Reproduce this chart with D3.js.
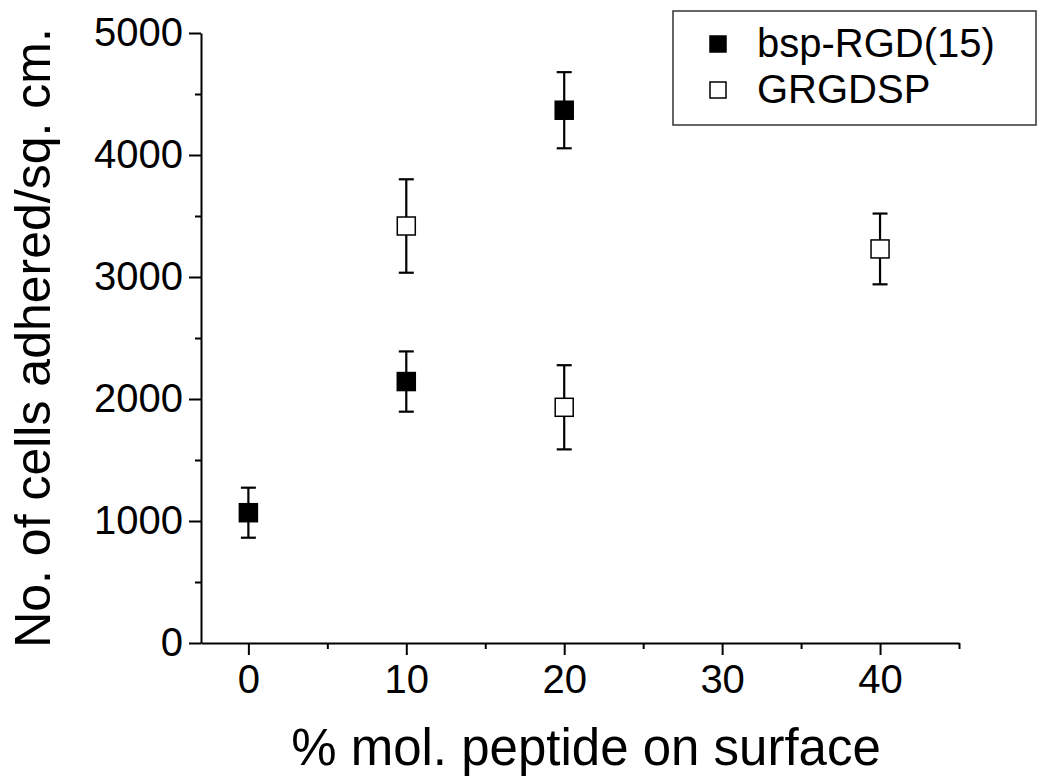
<!DOCTYPE html>
<html>
<head>
<meta charset="utf-8">
<script src="https://cdn.jsdelivr.net/npm/d3@7"></script>
<style>
  body { margin: 0; background: #fff; }
  svg { display: block; font-family: "Liberation Sans", Arial, sans-serif; }
  .axis path, .axis line { stroke: #000; stroke-width: 2; }
  .axis text { font-size: 40px; fill: #000; font-family: "Liberation Sans", Arial, sans-serif; }
</style>
</head>
<body>
<div id="chart"></div>
<script>
// values
const seriesNames = ['bsp-RGD(15)', 'GRGDSP'];
const bspX = [0, 10, 20];
const bspY = [1068, 2143, 4367];
const bspErr = [205, 247, 312];
const grgX = [10, 20, 40];
const grgY = [3418, 1932, 3230];
const grgErr = [383, 345, 290];
const xTicks = [0, 10, 20, 30, 40];
const xMinor = [5, 15, 25, 35, 45];
const yTicks = [0, 1000, 2000, 3000, 4000, 5000];
const yMinor = [500, 1500, 2500, 3500, 4500];

const width = 1050, height = 783;
const plot = {left: 201, right: 959, top: 33, bottom: 643};

const svg = d3.select('#chart').append('svg')
    .attr('width', width)
    .attr('height', height);

const x = d3.scaleLinear().domain([-3, 45]).range([plot.left, plot.right]);
const y = d3.scaleLinear().domain([0, 5000]).range([plot.bottom, plot.top]);

// minor ticks first, so major axis draws over them
svg.append('g')
    .attr('class', 'axis')
    .attr('transform', 'translate(0,' + plot.bottom + ')')
    .call(d3.axisBottom(x).tickValues(xMinor).tickSize(6).tickSizeOuter(0).tickFormat(''))
    .select('.domain').remove();
svg.append('g')
    .attr('class', 'axis')
    .attr('transform', 'translate(' + plot.left + ',0)')
    .call(d3.axisLeft(y).tickValues(yMinor).tickSize(6).tickSizeOuter(0).tickFormat(''))
    .select('.domain').remove();

let xAxis = svg.append('g')
    .attr('class', 'axis')
    .attr('transform', 'translate(0,' + plot.bottom + ')')
    .call(d3.axisBottom(x).tickValues(xTicks).tickSize(12).tickSizeOuter(0)
        .tickPadding(8).tickFormat(d3.format('d')));
xAxis.selectAll('text').attr('dy', '0.76em');

let yAxis = svg.append('g')
    .attr('class', 'axis')
    .attr('transform', 'translate(' + plot.left + ',0)')
    .call(d3.axisLeft(y).tickValues(yTicks).tickSize(12).tickSizeOuter(0)
        .tickPadding(6).tickFormat(d3.format('d')));

// axis titles
svg.append('text')
    .attr('x', 586)
    .attr('y', 765)
    .attr('text-anchor', 'middle')
    .style('font-size', '51px')
    .text('% mol. peptide on surface');

svg.append('text')
    .attr('transform', 'translate(50,' + 338 + ') rotate(-90)')
    .attr('text-anchor', 'middle')
    .style('font-size', '50px')
    .text('No. of cells adhered/sq. cm.');

// data series with error bars
const series = [
    {x: bspX, y: bspY, err: bspErr, fill: '#000'},
    {x: grgX, y: grgY, err: grgErr, fill: '#fff'}
];
const cap = 7.5, half = 9;

series.forEach((s) => {
    let pts = s.x.map((d, i) => ({x: d, y: s.y[i], e: s.err[i]}));
    let g = svg.append('g');
    let eb = g.selectAll('.err').data(pts).enter().append('g').attr('class', 'err')
        .attr('stroke', '#000').attr('stroke-width', 2.2);
    eb.append('line')
        .attr('x1', (d) => x(d.x)).attr('x2', (d) => x(d.x))
        .attr('y1', (d) => y(d.y + d.e)).attr('y2', (d) => y(d.y - d.e));
    eb.append('line')
        .attr('x1', (d) => x(d.x) - cap).attr('x2', (d) => x(d.x) + cap)
        .attr('y1', (d) => y(d.y + d.e)).attr('y2', (d) => y(d.y + d.e));
    eb.append('line')
        .attr('x1', (d) => x(d.x) - cap).attr('x2', (d) => x(d.x) + cap)
        .attr('y1', (d) => y(d.y - d.e)).attr('y2', (d) => y(d.y - d.e));
    g.selectAll('rect').data(pts).enter().append('rect')
        .attr('x', (d) => x(d.x) - half)
        .attr('y', (d) => y(d.y) - half)
        .attr('width', half * 2)
        .attr('height', half * 2)
        .attr('fill', s.fill)
        .attr('stroke', '#000')
        .attr('stroke-width', 1.5);
});

// legend
let legend = svg.append('g');
legend.append('rect')
    .attr('x', 673).attr('y', 11)
    .attr('width', 363).attr('height', 114)
    .attr('fill', '#fff')
    .attr('stroke', '#333')
    .attr('stroke-width', 1.5);
seriesNames.forEach((name, i) => {
    let cy = 44 + i * 46;
    legend.append('rect')
        .attr('x', 710).attr('y', cy - 8)
        .attr('width', 16).attr('height', 16)
        .attr('fill', series[i].fill)
        .attr('stroke', '#000')
        .attr('stroke-width', 1.5);
    legend.append('text')
        .attr('x', 757).attr('y', cy + 13)
        .style('font-size', '40px')
        .text(name);
});
</script>
</body>
</html>
